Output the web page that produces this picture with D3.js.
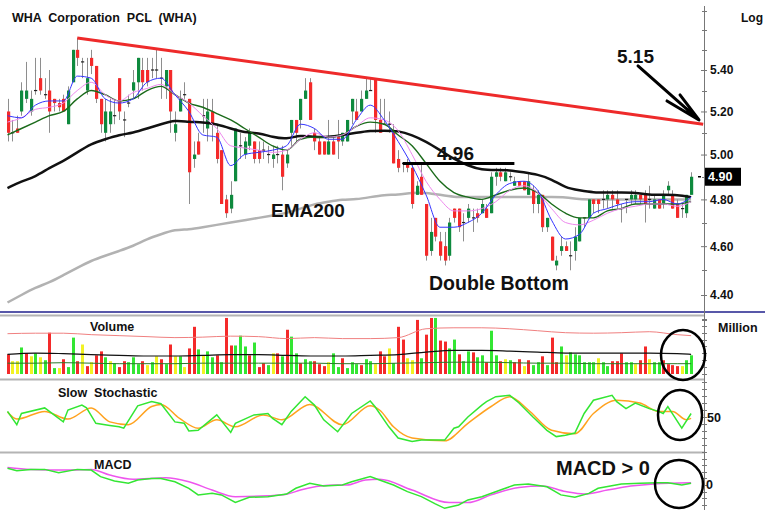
<!DOCTYPE html>
<html>
<head>
<meta charset="utf-8">
<script src="https://cdn.jsdelivr.net/npm/d3@7"></script>
<style>
  body { margin: 0; background: #fff; }
  svg { display: block; font-family: "Liberation Sans", Arial, sans-serif; }
</style>
</head>
<body>
<div id="chart"></div>
<script>
// ---- price data (daily candles) ----
const open = [5.20,5.10,5.12,5.20,5.26,5.20,5.30,5.36,5.28,5.30, 5.26,5.24,5.26,5.14,5.34,5.50,5.44,5.30,5.46,5.42,
  5.26,5.10,5.14,5.18,5.36,5.16,5.24,5.30,5.34,5.40, 5.40,5.40,5.40,5.36,5.32,5.40,5.10,5.20,5.28,5.26,
  4.98,5.06,5.18,5.12,5.20,5.10,5.02,4.80,4.76,4.88, 5.04,5.00,5.04,5.06,5.02,5.02,5.00,4.98,5.00,5.00,
  4.96,5.10,5.16,5.16,5.26,5.34,5.10,5.06,5.06,5.00, 5.06,5.08,5.06,5.06,5.20,5.20,5.20,5.26,5.30,5.36,
  5.16,5.14,5.14,5.10,4.98,4.96,4.96,4.94,4.82,4.90, 4.78,4.58,4.72,4.62,4.60,4.56,4.76,4.76,4.70,4.72,
  4.72,4.74,4.74,4.76,4.74,4.90,4.92,4.88,4.90,4.86, 4.88,4.88,4.82,4.84,4.78,4.82,4.68,4.64,4.52,4.58,
  4.60,4.56,4.58,4.62,4.72,4.72,4.80,4.80,4.80,4.80, 4.82,4.80,4.76,4.80,4.80,4.80,4.82,4.82,4.80,4.76,
  4.80,4.78,4.84,4.82,4.78,4.76,4.74,4.82];
const high = [5.26,5.16,5.18,5.34,5.44,5.30,5.46,5.46,5.36,5.40, 5.26,5.26,5.28,5.32,5.50,5.56,5.46,5.46,5.50,5.42,
  5.26,5.26,5.26,5.26,5.36,5.20,5.28,5.40,5.46,5.46, 5.46,5.46,5.50,5.46,5.40,5.40,5.20,5.30,5.34,5.26,
  5.06,5.10,5.26,5.26,5.26,5.14,5.02,4.82,4.88,5.12, 5.10,5.08,5.12,5.06,5.06,5.06,5.04,5.04,5.04,5.04,
  5.02,5.16,5.16,5.26,5.36,5.36,5.12,5.08,5.06,5.16, 5.08,5.16,5.10,5.16,5.26,5.26,5.30,5.36,5.36,5.36,
  5.26,5.26,5.20,5.14,5.02,4.96,4.98,4.96,4.88,4.96, 4.78,4.72,4.72,4.66,4.66,4.72,4.76,4.76,4.74,4.78,
  4.76,4.76,4.80,4.78,4.92,4.94,4.94,4.94,4.92,4.90, 4.88,4.88,4.92,4.86,4.84,4.82,4.72,4.64,4.56,4.64,
  4.62,4.62,4.68,4.72,4.72,4.80,4.80,4.80,4.84,4.84, 4.84,4.84,4.78,4.80,4.84,4.84,4.82,4.84,4.86,4.82,
  4.80,4.84,4.88,4.84,4.80,4.78,4.82,4.92];
const low = [5.06,5.06,5.10,5.18,5.24,5.18,5.28,5.28,5.26,5.10, 5.20,5.20,5.20,5.14,5.34,5.42,5.36,5.28,5.38,5.24,
  5.10,5.06,5.10,5.14,5.16,5.08,5.22,5.26,5.26,5.30, 5.32,5.36,5.36,5.26,5.26,5.10,5.06,5.20,5.26,4.78,
  4.94,5.00,5.10,5.06,5.06,4.96,4.78,4.72,4.74,4.88, 4.98,4.98,5.02,4.96,4.96,4.98,4.96,4.94,4.96,4.84,
  4.94,5.04,5.06,5.12,5.26,5.16,5.02,5.00,5.00,5.00, 5.00,4.98,5.04,5.06,5.14,5.16,5.20,5.26,5.30,5.10,
  5.10,5.14,5.10,4.96,4.92,4.92,4.92,4.76,4.82,4.82, 4.54,4.56,4.62,4.54,4.52,4.54,4.70,4.66,4.62,4.70,
  4.66,4.70,4.74,4.72,4.74,4.86,4.88,4.88,4.88,4.86, 4.86,4.84,4.82,4.74,4.74,4.66,4.66,4.54,4.50,4.56,
  4.58,4.50,4.54,4.62,4.68,4.72,4.74,4.74,4.76,4.76, 4.76,4.76,4.70,4.74,4.78,4.78,4.78,4.70,4.76,4.76,
  4.76,4.76,4.82,4.76,4.72,4.72,4.72,4.82];
const close = [5.10,5.10,5.10,5.30,5.30,5.26,5.30,5.30,5.28,5.20, 5.24,5.22,5.20,5.30,5.50,5.46,5.44,5.36,5.42,5.26,
  5.14,5.20,5.20,5.18,5.20,5.16,5.24,5.34,5.46,5.34, 5.34,5.40,5.40,5.36,5.40,5.20,5.14,5.26,5.28,4.92,
  5.00,5.00,5.18,5.20,5.14,4.98,4.78,4.74,4.82,5.12, 5.04,5.06,5.10,4.98,4.98,5.02,5.00,5.00,5.00,4.90,
  5.00,5.16,5.10,5.26,5.30,5.16,5.06,5.00,5.00,5.06, 5.00,5.06,5.10,5.16,5.26,5.16,5.26,5.30,5.30,5.16,
  5.10,5.14,5.14,4.96,4.94,4.96,4.94,4.78,4.86,4.82, 4.56,4.66,4.64,4.56,4.54,4.70,4.72,4.68,4.70,4.76,
  4.72,4.72,4.78,4.72,4.90,4.92,4.90,4.92,4.90,4.88, 4.86,4.84,4.88,4.78,4.82,4.68,4.72,4.54,4.54,4.60,
  4.58,4.56,4.64,4.72,4.72,4.80,4.78,4.78,4.80,4.82, 4.80,4.78,4.76,4.80,4.82,4.82,4.80,4.78,4.80,4.80,
  4.76,4.82,4.86,4.76,4.72,4.76,4.82,4.90];

// moving averages, read every 3rd session
const maIdx = d3.range(0, 148, 3);
const ema5 = [5.18,5.17,5.23,5.25,5.25,5.37,5.36,5.26,5.24,5.26, 5.34,5.36,5.28,5.20,5.09,5.08,4.95,5.00,5.01,5.02,
  5.04,5.14,5.12,5.07,5.07,5.16,5.23,5.16,5.06,4.95, 4.82,4.68,4.68,4.70,4.74,4.82,4.87,4.88,4.84,4.71,
  4.63,4.65,4.74,4.76,4.78,4.79,4.79,4.80,4.78,4.81];
const ema10 = [5.15,5.17,5.21,5.22,5.24,5.30,5.34,5.28,5.25,5.29, 5.31,5.33,5.28,5.24,5.18,5.12,5.04,5.03,5.02,5.01,
  5.02,5.07,5.10,5.08,5.09,5.13,5.17,5.16,5.11,5.00, 4.88,4.80,4.75,4.75,4.76,4.79,4.84,4.86,4.83,4.76,
  4.70,4.69,4.71,4.74,4.76,4.77,4.78,4.78,4.77,4.79];
const ema25 = [5.09,5.12,5.15,5.18,5.20,5.26,5.30,5.28,5.25,5.26, 5.30,5.32,5.28,5.24,5.22,5.19,5.16,5.12,5.08,5.04,
  5.02,5.07,5.08,5.08,5.09,5.13,5.15,5.14,5.09,5.04, 4.96,4.88,4.83,4.81,4.80,4.82,4.84,4.85,4.83,4.78,
  4.74,4.72,4.72,4.75,4.76,4.78,4.78,4.78,4.78,4.79];
const ema75 = [4.85,4.88,4.90,4.94,4.97,5.01,5.05,5.07,5.09,5.10, 5.12,5.14,5.16,5.15,5.15,5.14,5.12,5.10,5.10,5.08,
  5.07,5.09,5.08,5.08,5.09,5.10,5.11,5.11,5.11,5.09, 5.06,5.02,4.98,4.95,4.93,4.93,4.93,4.92,4.91,4.89,
  4.85,4.84,4.83,4.83,4.83,4.83,4.82,4.82,4.82,4.81];
const ema200 = [4.37,4.40,4.43,4.45,4.48,4.51,4.54,4.56,4.58,4.60, 4.63,4.65,4.67,4.67,4.68,4.69,4.70,4.71,4.72,4.73,
  4.74,4.76,4.78,4.79,4.80,4.80,4.81,4.82,4.82,4.83, 4.83,4.82,4.81,4.81,4.81,4.81,4.81,4.81,4.81,4.81,
  4.81,4.80,4.80,4.80,4.80,4.80,4.80,4.80,4.80,4.80];

const priceTicks = [4.40, 4.60, 4.80, 5.00, 5.20, 5.40];
const priceMinor = [4.30, 4.50, 4.70, 4.90, 5.10, 5.30, 5.50, 5.60, 5.70];
const lastPrice = 4.90;
const trendPts = [[15, 5.56], [149.6, 5.14]];
const resistance = { from: 85, to: 109, price: 4.96 };

// ---- volume (million shares) ----
const volume = [20,13,13,27,21,18,21,17,14,42, 6,6,15,7,37,13,30,8,12,19,
  23,17,13,11,7,13,12,17,10,13, 9,12,18,15,10,30,18,18,7,26,
  48,25,19,23,17,19,12,57,29,29, 39,28,19,32,7,11,9,21,21,18,
  45,38,21,11,15,13,13,10,8,12, 21,7,16,6,12,10,9,15,13,10,
  23,18,26,11,48,35,16,14,55,16, 40,57,57,34,33,26,35,20,13,23,
  22,17,19,12,44,19,13,15,14,12, 15,8,14,9,12,18,9,37,12,28,
  19,22,20,19,12,12,12,16,12,8, 13,13,21,12,12,10,14,28,15,12,
  12,14,10,9,8,8,14,19];
const volColor = ("r y y g r y g y g r g y r g g r y r y r " +
  "r g y g r r g g g r y g y r g r y g y r " +
  "r g y g g r g r r g g g r g r r g y r g " +
  "r g g r g g r r r y g g r g g g r g g y " +
  "r r y g r r y y r g r r g r r g g r g g " +
  "r g g r g g r y g r r y r g g r g r r g " +
  "y g g g g g g y g g r r r g g y r r y g " +
  "g r r r r y g g").trim().split(/\s+/);
const volMaIdx = [0,6,12,18,24,30,36,42,48,54,60,66,72,78,84,90,96,102,108,114,120,126,132,138,144,147];
const volMaLong = [41,41.5,41.5,40,39,38,37,37.5,38.5,38,36,37,36,36,37,46,47,47,46,44,42,41.5,42,43,40,39];
const volMaMid = [20,21.3,20.7,19.7,19,18.3,18.3,19,19.7,19.7,19,18.3,18.3,19,19.7,22.3,24,24,23.3,22.3,21.3,21.3,21.3,21.3,20.7,20];
const volMaShort = [11,11,11.5,11,10.5,10.5,10.5,11,11,11,11,11,10.5,10.5,11,11.5,12,12,11.5,11,11,10.5,10.5,10.5,10.5,10.5];

// ---- slow stochastic ----
const kIdx = [0,2,3,8,12,13,16,17,19,22,24,25,28,31,33,36,38,39,41,45,48,49,53,56,57,59,61,64,66,68,
  71,74,78,79,82,84,87,89,91,94,96,97,99,102,103,105,108,110,113,116,118,120,122,124,126,130,131,133,135,138,
  140,141,142,145,147];
const kVal = [58,39,55,63,43,60,67,63,41,38,36,34,66,72,69,43,41,30,31,53,28,41,53,55,48,39,58,79,67,46,
  29,55,73,65,36,20,15,17,17,17,34,36,50,67,72,79,81,70,50,31,22,24,27,55,74,81,72,62,70,62,
  58,55,65,34,55];
const dIdx = [0,2,8,13,18,22,26,31,33,37,41,45,49,55,59,65,72,78,80,83,87,94,99,104,108,112,117,122,126,131,136,140,143,146,147];
const dVal = [57,47,58,47,63,43,39,65,68,48,34,46,36,53,46,68,39,66,60,36,20,16,41,65,79,60,31,26,55,74,70,58,58,46,48];

// ---- MACD ----
const mIdx = [0,2,5,8,11,15,18,20,23,26,28,31,33,36,39,41,44,46,49,52,56,60,62,65,68,72,74,78,80,83,
  86,89,92,94,97,99,102,106,109,112,116,119,122,125,127,132,136,140,142,145,147];
const mVal = [0.076,0.065,0.071,0.071,0.056,0.071,0.068,0.038,0.018,0.008,0.023,0.030,0.030,0.015,-0.015,
  -0.045,-0.038,-0.045,-0.079,-0.056,-0.053,-0.041,-0.015,0.008,-0.005,0.000,0.015,0.038,0.023,0.000,
  -0.030,-0.053,-0.086,-0.106,-0.091,-0.068,-0.053,-0.023,0.000,0.005,-0.008,-0.045,-0.056,-0.038,-0.015,
  0.005,0.008,0.010,0.010,0.000,0.008];
const sIdx = [0,5,13,18,22,27,34,39,44,49,56,60,63,69,73,77,80,87,95,99,104,110,115,120,124,129,134,139,147];
const sVal = [0.080,0.071,0.068,0.071,0.045,0.026,0.033,0.015,-0.023,-0.053,-0.049,-0.042,-0.023,-0.001,0.000,
  0.023,0.026,-0.023,-0.080,-0.080,-0.045,-0.011,-0.005,-0.030,-0.041,-0.023,-0.005,0.005,0.010];

// ---- layout ----
const W = 765, H = 510, axisX = 704;
const N = close.length;

const svg = d3.select("#chart").append("svg")
  .attr("width", W).attr("height", H);

const x = d3.scaleLinear().domain([0, N - 1]).range([7.5, 691.1]);
const y = d3.scaleLog().domain([4.40, 5.40]).range([295, 70]);
const vy = d3.scaleLinear().domain([0, 60]).range([374, 315]);
const sy = d3.scaleLinear().domain([0, 100]).range([452, 382]);
const my = d3.scaleLinear().domain([-0.12, 0.14]).range([511.4, 454.2]);

svg.append("clipPath").attr("id", "plotClip")
  .append("rect").attr("x", 0).attr("y", 0).attr("width", axisX).attr("height", H);

const colors = { r: "#f42a2a", g: "#33e633", y: "#f2f224" };

// panel frames
svg.append("line").attr("x1", 0).attr("x2", W).attr("y1", 312).attr("y2", 312)
  .attr("stroke", "#20208c").attr("stroke-width", 1.5);
[315.5, 379.5, 452.5].forEach(yy => {
  svg.append("line").attr("x1", 0).attr("x2", axisX).attr("y1", yy).attr("y2", yy)
    .attr("stroke", "#b4b4b4").attr("stroke-width", 2);
});
svg.append("line").attr("x1", axisX + 0.5).attr("x2", axisX + 0.5).attr("y1", 6).attr("y2", H)
  .attr("stroke", "#777");

// ---- price panel ----
const price = svg.append("g").attr("clip-path", "url(#plotClip)");

const zip = (idx, vals) => idx.map((d, k) => [d, vals[k]]);
const maLine = d3.line().x(d => x(d[0])).y(d => y(d[1])).curve(d3.curveMonotoneX);
const slowLine = d3.line().x(d => x(d[0])).y(d => y(d[1])).curve(d3.curveBasis);

price.append("path").datum(zip(maIdx, ema200)).attr("d", slowLine)
  .attr("fill", "none").attr("stroke", "#b2b2b2").attr("stroke-width", 2.5);

// candles
const candles = price.append("g").selectAll("g").data(d3.range(N)).join("g");
candles.append("line")
  .attr("x1", i => Math.round(x(i)) + 0.5).attr("x2", i => Math.round(x(i)) + 0.5)
  .attr("y1", i => y(high[i])).attr("y2", i => y(low[i]))
  .attr("stroke", "#8e8e8e");
candles.append("rect")
  .attr("x", i => Math.round(x(i)) - 1)
  .attr("width", 3.2)
  .attr("y", i => y(Math.max(open[i], close[i])) - (open[i] === close[i] ? 0.6 : 0))
  .attr("height", i => Math.max(1.2, Math.abs(y(open[i]) - y(close[i]))))
  .attr("fill", i => close[i] > open[i] ? "#0e8a3e" : close[i] < open[i] ? "#f42a2a" : "#222");

price.append("path").datum(zip(maIdx, ema75)).attr("d", slowLine)
  .attr("fill", "none").attr("stroke", "#111").attr("stroke-width", 2.5);
price.append("path").datum(zip(maIdx, ema25)).attr("d", maLine)
  .attr("fill", "none").attr("stroke", "#1b6b1b").attr("stroke-width", 1.4);
price.append("path").datum(zip(maIdx, ema10)).attr("d", maLine)
  .attr("fill", "none").attr("stroke", "#ee88ee").attr("stroke-width", 1);
price.append("path").datum(zip(maIdx, ema5)).attr("d", maLine)
  .attr("fill", "none").attr("stroke", "#3535ff").attr("stroke-width", 1);

// trend line and resistance
svg.append("line")
  .attr("x1", x(trendPts[0][0])).attr("y1", y(trendPts[0][1]))
  .attr("x2", x(trendPts[1][0])).attr("y2", y(trendPts[1][1]))
  .attr("stroke", "#ee2a2a").attr("stroke-width", 3);
svg.append("line")
  .attr("x1", x(resistance.from)).attr("x2", x(resistance.to))
  .attr("y1", y(resistance.price)).attr("y2", y(resistance.price))
  .attr("stroke", "#000").attr("stroke-width", 3);

// price axis
const pAxis = svg.append("g").attr("transform", `translate(${axisX},0)`)
  .call(d3.axisRight(y).tickValues(priceTicks).tickFormat(d3.format(".2f")).tickSize(3).tickPadding(3));
pAxis.select(".domain").remove();
pAxis.selectAll(".tick line").attr("stroke", "#777").attr("x1", -3);
pAxis.selectAll("text").attr("font-size", 12).attr("font-weight", "bold").attr("fill", "#111");
svg.append("g").selectAll("line").data(priceMinor).join("line")
  .attr("x1", axisX - 2).attr("x2", axisX + 3)
  .attr("y1", d => Math.round(y(d)) + 0.5).attr("y2", d => Math.round(y(d)) + 0.5)
  .attr("stroke", "#777");

// last price flag
svg.append("rect").attr("x", axisX + 1).attr("y", y(lastPrice) - 9)
  .attr("width", 36).attr("height", 18).attr("fill", "#000");
svg.append("text").attr("x", axisX + 4).attr("y", y(lastPrice) + 4.5)
  .attr("font-size", 12.5).attr("font-weight", "bold").attr("fill", "#fff").text("4.90");
svg.append("line").attr("x1", axisX - 6).attr("x2", axisX - 3)
  .attr("y1", y(lastPrice)).attr("y2", y(lastPrice)).attr("stroke", "#000").attr("stroke-width", 1.5);

// ---- volume panel ----
const vol = svg.append("g").attr("clip-path", "url(#plotClip)");
vol.selectAll("rect").data(d3.range(N)).join("rect")
  .attr("x", i => Math.round(x(i)) - 1)
  .attr("width", 3)
  .attr("y", i => vy(volume[i]))
  .attr("height", i => vy(0) - vy(volume[i]))
  .attr("fill", i => colors[volColor[i]]);

const vLine = d3.line().x(d => x(d[0])).y(d => vy(d[1])).curve(d3.curveMonotoneX);
vol.append("path").datum(zip(volMaIdx, volMaLong)).attr("d", vLine)
  .attr("fill", "none").attr("stroke", "#f08080").attr("stroke-width", 1);
vol.append("path").datum(zip(volMaIdx, volMaMid)).attr("d", vLine)
  .attr("fill", "none").attr("stroke", "#111").attr("stroke-width", 1.2);
vol.append("path").datum(zip(volMaIdx, volMaShort)).attr("d", vLine)
  .attr("fill", "none").attr("stroke", "#2a7a2a").attr("stroke-width", 1);

// ---- stochastic panel ----
const stoch = svg.append("g").attr("clip-path", "url(#plotClip)");
stoch.append("path").datum(zip(dIdx, dVal))
  .attr("d", d3.line().x(d => x(d[0])).y(d => sy(d[1])).curve(d3.curveMonotoneX))
  .attr("fill", "none").attr("stroke", "#ffa21f").attr("stroke-width", 1.5);
stoch.append("path").datum(zip(kIdx, kVal))
  .attr("d", d3.line().x(d => x(d[0])).y(d => sy(d[1])))
  .attr("fill", "none").attr("stroke", "#33e633").attr("stroke-width", 1.5);

// ---- MACD panel ----
const macd = svg.append("g").attr("clip-path", "url(#plotClip)");
macd.append("path").datum(zip(sIdx, sVal))
  .attr("d", d3.line().x(d => x(d[0])).y(d => my(d[1])).curve(d3.curveMonotoneX))
  .attr("fill", "none").attr("stroke", "#ee55ee").attr("stroke-width", 1.5);
macd.append("path").datum(zip(mIdx, mVal))
  .attr("d", d3.line().x(d => x(d[0])).y(d => my(d[1])))
  .attr("fill", "none").attr("stroke", "#33e633").attr("stroke-width", 1.5);

// lower axis ticks
const minorTicks = [
  ...d3.range(0, 61, 7).map(v => vy(v)),
  ...d3.range(0, 101, 10).map(v => sy(v)),
  ...d3.range(-0.12, 0.14, 0.03).map(v => my(v))
];
svg.append("g").selectAll("line").data(minorTicks).join("line")
  .attr("x1", axisX - 2).attr("x2", axisX + 3)
  .attr("y1", d => Math.round(d) + 0.5).attr("y2", d => Math.round(d) + 0.5)
  .attr("stroke", "#777");

// ---- labels ----
const label = (tx, ty, t, size) => svg.append("text")
  .attr("x", tx).attr("y", ty).attr("font-size", size).attr("font-weight", "bold")
  .attr("fill", "#111").style("white-space", "pre").text(t);

label(12, 22, "WHA  Corporation  PCL  (WHA)", 12.5);
label(741, 22, "Log", 12);
label(90, 331, "Volume", 12.5);
label(718, 332, "Million", 12.5);
label(58, 397, "Slow  Stochastic", 12.5);
label(94, 469, "MACD", 12.5);
label(707, 422, "50", 12.5);
label(706, 489, "0", 12.5);

label(617, 63, "5.15", 19);
label(437, 160, "4.96", 19);
label(271, 217, "EMA200", 19);
label(429, 290, "Double Bottom", 19.5);
label(556, 475, "MACD > 0", 20);

// arrow pointing at the trend line end
const tip = [x(148.7), y(5.16)];
svg.append("path")
  .attr("d", `M${tip[0] - 61},${tip[1] - 54} L${tip[0]},${tip[1]} M${tip[0] - 32},${tip[1] - 19} L${tip[0]},${tip[1]} L${tip[0] - 19},${tip[1] - 25}`)
  .attr("fill", "none").attr("stroke", "#000").attr("stroke-width", 3).attr("stroke-linecap", "round");

// highlight circles
[[683, 355, 22, 25], [680, 415, 22, 25], [679, 484, 24, 24]].forEach(([cx, cy, rx, ry]) => {
  svg.append("ellipse").attr("cx", cx).attr("cy", cy).attr("rx", rx).attr("ry", ry)
    .attr("fill", "none").attr("stroke", "#000").attr("stroke-width", 2.5);
});
</script>
</body>
</html>
